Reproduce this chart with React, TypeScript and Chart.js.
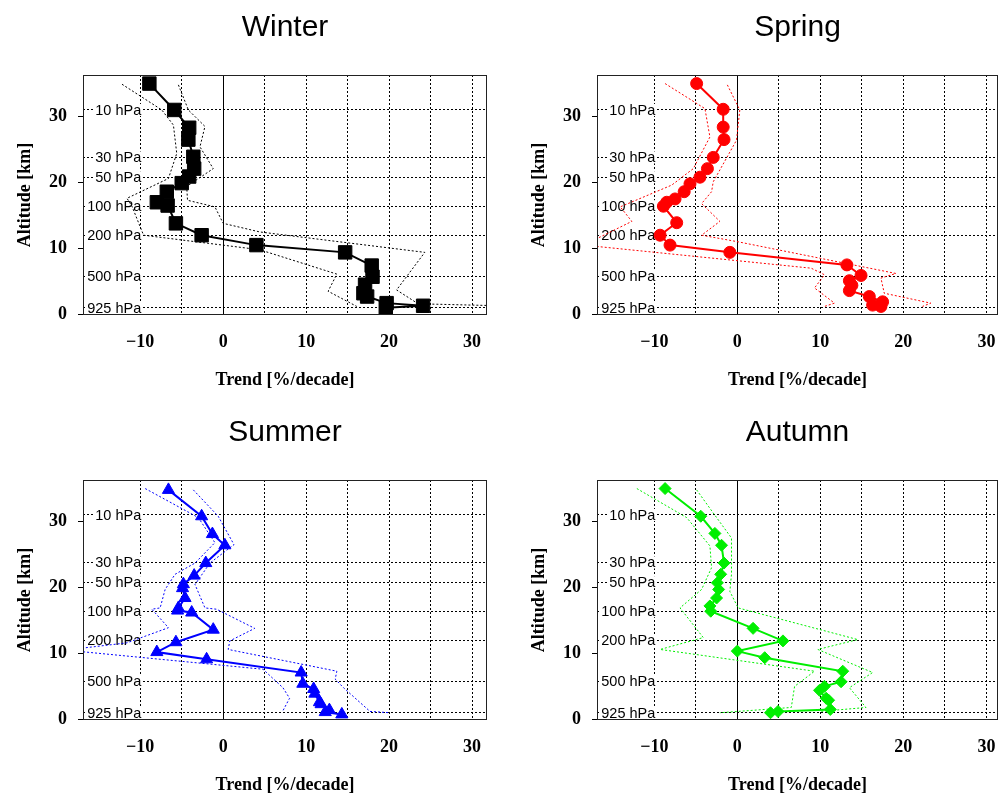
import React, { useEffect, useRef } from 'react';
import { Chart, registerables } from 'chart.js';
Chart.register(...registerables);

// ---- axis / reference values ----
const xTicks = [-10, -5, 0, 5, 10, 15, 20, 25, 30];
const yTicks = [0, 10, 20, 30];
const pressureLabels = ['10 hPa', '30 hPa', '50 hPa', '100 hPa', '200 hPa', '500 hPa', '925 hPa'];
const pressureAlt = [31.0, 23.8, 20.8, 16.4, 12.0, 5.8, 1.0];

// ---- Winter ----
const winterAlt = [35.0, 31.0, 28.3, 26.5, 23.9, 22.1, 20.9, 19.9, 18.6, 17.0, 16.5, 13.8, 12.0, 10.5, 9.4, 7.4, 5.7, 4.5, 3.2, 2.7, 1.7, 1.3, 1.0];
const winterTrend = [-8.9, -5.9, -4.1, -4.2, -3.6, -3.5, -4.1, -5.0, -6.8, -8.0, -6.7, -5.7, -2.6, 4.0, 14.7, 17.9, 18.0, 17.1, 16.9, 17.35, 19.7, 24.1, 19.6];
const winterLoAlt = [34.9, 31.0, 28.7, 24.4, 20.6, 17.6, 16.4, 12.0, 9.8, 6.1, 3.5, 1.2];
const winterLo = [-12.2, -7.4, -6.0, -5.6, -6.6, -11.6, -11.0, -9.6, 4.4, 13.7, 12.65, 16.1];
const winterHiAlt = [34.8, 31.0, 28.5, 25.4, 22.1, 19.4, 17.3, 16.3, 13.8, 12.5, 9.4, 3.7, 1.6, 1.1];
const winterHi = [-5.4, -4.2, -2.2, -2.8, -1.2, -4.4, -4.3, -1.0, 0.0, 4.4, 24.3, 20.9, 23.5, 40.0];

// ---- Spring ----
const springAlt = [35.0, 31.1, 28.4, 26.5, 23.8, 22.1, 20.8, 19.8, 18.6, 17.5, 17.0, 16.4, 13.9, 12.0, 10.5, 9.4, 7.5, 5.9, 5.1, 4.4, 3.6, 2.7, 1.9, 1.4, 1.2];
const springTrend = [-4.9, -1.7, -1.7, -1.6, -2.9, -3.6, -4.5, -5.7, -6.4, -7.5, -8.5, -8.9, -7.3, -9.3, -8.1, -0.9, 13.2, 14.9, 13.5, 13.8, 13.5, 15.9, 17.5, 16.3, 17.3];
const springLoAlt = [35.0, 31.2, 26.9, 22.1, 19.6, 16.3, 14.1, 10.5, 7.0, 6.0, 4.0, 1.7, 1.2];
const springLo = [-8.7, -3.9, -3.3, -5.3, -7.9, -14.1, -12.7, -18.5, 8.9, 10.5, 9.3, 11.7, 10.5];
const springHiAlt = [34.8, 31.0, 26.4, 23.7, 20.1, 18.6, 16.8, 14.1, 12.0, 11.0, 6.2, 5.5, 3.2, 1.7, 1.2];
const springHi = [-1.2, 0.3, -0.1, -1.3, -2.9, -3.1, -4.3, -2.1, -4.3, 0.1, 19.1, 17.3, 17.7, 23.3, 22.3];

// ---- Summer ----
const summerAlt = [34.8, 30.8, 28.1, 26.4, 23.7, 21.8, 20.5, 19.9, 18.4, 16.9, 16.5, 16.2, 13.6, 11.7, 10.2, 9.1, 7.1, 5.4, 4.6, 3.9, 2.6, 2.3, 1.4, 1.1, 0.75];
const summerTrend = [-6.6, -2.6, -1.3, 0.2, -2.1, -3.5, -4.8, -4.9, -4.6, -5.4, -5.5, -3.8, -1.2, -5.7, -8.0, -2.0, 9.4, 9.6, 10.9, 11.05, 11.6, 11.8, 12.8, 12.3, 14.3];
const summerLoAlt = [35.0, 30.6, 26.8, 23.7, 22.0, 19.7, 16.9, 16.7, 13.9, 11.6, 10.5, 7.6, 4.8, 3.2, 1.3];
const summerLo = [-9.4, -3.0, -1.0, -3.4, -5.8, -7.0, -7.6, -8.6, -6.6, -11.6, -19.0, 4.8, 7.2, 8.0, 7.2];
const summerHiAlt = [34.8, 30.8, 26.5, 23.7, 20.45, 16.9, 16.7, 13.8, 11.9, 10.6, 7.3, 6.1, 4.8, 1.2, 1.0];
const summerHi = [-3.6, -0.6, 1.3, -1.6, -3.4, -2.2, -0.8, 3.8, 0.8, 0.6, 13.7, 13.5, 14.5, 17.7, 20.1];

// ---- Autumn ----
const autumnAlt = [35.0, 30.8, 28.2, 26.4, 23.7, 22.0, 20.7, 19.7, 18.4, 17.2, 16.4, 13.8, 11.9, 10.35, 9.35, 7.3, 5.7, 5.0, 4.4, 3.2, 2.9, 1.5, 1.2, 1.0];
const autumnTrend = [-8.7, -4.4, -2.7, -1.9, -1.6, -2.0, -2.4, -2.25, -2.5, -3.3, -3.2, 1.9, 5.5, 0.0, 3.3, 12.7, 12.5, 10.5, 9.9, 10.7, 11.0, 11.2, 4.9, 4.0];
const autumnLoAlt = [35.0, 30.6, 26.3, 23.0, 19.7, 16.9, 12.4, 10.6, 7.3, 5.0, 1.8, 1.0];
const autumnLo = [-12.1, -6.1, -3.3, -3.1, -4.3, -6.9, -4.1, -9.3, 9.3, 6.9, 6.5, -2.1];
const autumnHiAlt = [34.8, 31.3, 27.5, 22.0, 19.4, 16.9, 12.1, 10.6, 7.1, 4.8, 1.8, 1.2];
const autumnHi = [-4.9, -2.9, -0.7, -0.7, -0.9, 0.1, 14.5, 9.7, 16.3, 13.5, 15.5, 10.0];

const SERIF = '"Liberation Serif", "Times New Roman", serif';
const SANS = '"Liberation Sans", Arial, sans-serif';

const fmt = (v: number) => (v < 0 ? '\u2212' + Math.abs(v) : String(v));

const panelPlugin = {
  id: 'panelDeco',
  beforeDatasetsDraw(chart: any) {
    const { ctx, chartArea } = chart;
    const xs = chart.scales.x;
    const ys = chart.scales.y2;
    ctx.save();
    // zero line
    const x0 = xs.getPixelForValue(0);
    ctx.strokeStyle = '#000';
    ctx.lineWidth = 1;
    ctx.beginPath();
    ctx.moveTo(Math.round(x0) + 0.5, chartArea.top);
    ctx.lineTo(Math.round(x0) + 0.5, chartArea.bottom);
    ctx.stroke();
    // pressure labels
    const xr = xs.getPixelForValue(-10) + 1;
    ctx.font = '14.5px ' + SANS;
    ctx.textAlign = 'right';
    ctx.textBaseline = 'middle';
    pressureLabels.forEach((lab, i) => {
      const y = ys.getPixelForValue(pressureAlt[i]);
      const w = ctx.measureText(lab).width;
      ctx.fillStyle = '#fff';
      ctx.fillRect(xr - w - 1, y - 6, w + 2, 12);
      ctx.fillStyle = '#000';
      ctx.fillText(lab, xr, y + 1);
    });
    ctx.restore();
  },
  afterDraw(chart: any) {
    const { ctx, chartArea } = chart;
    ctx.save();
    ctx.strokeStyle = '#222';
    ctx.lineWidth = 1;
    ctx.strokeRect(Math.round(chartArea.left) + 0.5, Math.round(chartArea.top) + 0.5,
      Math.round(chartArea.right - chartArea.left) - 1, Math.round(chartArea.bottom - chartArea.top) - 1);
    // panel title, centred over the plot area
    const t = chart.options.plugins.panelDeco?.title;
    if (t) {
      ctx.fillStyle = '#000';
      ctx.font = '30px ' + SANS;
      ctx.textAlign = 'center';
      ctx.textBaseline = 'alphabetic';
      ctx.fillText(t, (chartArea.left + chartArea.right) / 2, chartArea.top - 39);
    }
    ctx.restore();
  },
};

type PanelProps = {
  title: string; color: string; pointStyle: string; radius: number;
  alt: number[]; trend: number[]; loAlt: number[]; lo: number[]; hiAlt: number[]; hi: number[];
  xMax: number; left: number; top: number; width: number; padRight: number;
};

function Panel(p: PanelProps) {
  const ref = useRef<HTMLCanvasElement>(null);
  useEffect(() => {
    if (!ref.current) return;
    const pts = (xs: number[], ys: number[]) => xs.map((v, i) => ({ x: v, y: ys[i] }));
    const tickFont = { family: SERIF, size: 18, weight: 'bold' as const };
    const chart = new Chart(ref.current, {
      type: 'scatter',
      data: {
        datasets: [
          {
            data: pts(p.trend, p.alt), showLine: true, borderColor: p.color, backgroundColor: p.color,
            borderWidth: 2, pointStyle: p.pointStyle as any, pointRadius: p.radius,
            pointBackgroundColor: p.color, pointBorderColor: p.color, pointBorderWidth: 1,
          },
          {
            data: pts(p.lo, p.loAlt), showLine: true, borderColor: p.color, borderWidth: 1,
            borderDash: [2, 2], pointRadius: 0,
          },
          {
            data: pts(p.hi, p.hiAlt), showLine: true, borderColor: p.color, borderWidth: 1,
            borderDash: [2, 2], pointRadius: 0,
          },
        ],
      },
      options: {
        animation: false,
        responsive: false,
        events: [],
        layout: { padding: { left: 0, top: 75, right: p.padRight, bottom: 0 } },
        plugins: {
          legend: { display: false },
          tooltip: { enabled: false },
          title: { display: false },
          panelDeco: { title: p.title },
        },
        scales: {
          x: {
            type: 'linear', min: -16.9, max: p.xMax,
            afterBuildTicks: (s: any) => { s.ticks = xTicks.map((v) => ({ value: v })); },
            afterFit: (s: any) => { s.height = 85; s.paddingLeft = 0; s.paddingRight = 0; },
            ticks: {
              callback: (v: any) => (Number(v) % 10 === 0 ? fmt(Number(v)) : ''),
              font: tickFont, color: '#000', padding: 0, autoSkip: false, maxRotation: 0,
            },
            grid: { color: '#000', lineWidth: 1, drawTicks: true, tickLength: 17, tickColor: 'rgba(0,0,0,0)' },
            border: { display: false, dash: [2, 2] },
            title: {
              display: true, text: 'Trend [%/decade]', color: '#000', font: tickFont,
              padding: { top: 0, bottom: 9 },
            },
          },
          y: {
            type: 'linear', min: -0.1, max: 36.3, position: 'left',
            afterBuildTicks: (s: any) => { s.ticks = yTicks.map((v) => ({ value: v })); },
            afterFit: (s: any) => { s.width = 83; s.paddingTop = 0; s.paddingBottom = 0; },
            ticks: { font: tickFont, color: '#000', padding: 11 },
            grid: { drawOnChartArea: false, drawTicks: true, tickLength: 5, color: '#000' },
            border: { display: false },
            title: {
              display: true, text: 'Altitude [km]', color: '#000', font: tickFont,
              padding: { top: 15, bottom: 0 },
            },
          },
          y2: {
            type: 'linear', min: -0.1, max: 36.3, position: 'left',
            afterBuildTicks: (s: any) => { s.ticks = pressureAlt.map((v) => ({ value: v })); },
            afterFit: (s: any) => { s.width = 0; s.paddingTop = 0; s.paddingBottom = 0; },
            ticks: { display: false },
            grid: { color: '#000', lineWidth: 1, drawTicks: false },
            border: { display: false, dash: [2, 2] },
          },
        },
      } as any,
      plugins: [panelPlugin],
    });
    return () => chart.destroy();
  }, []);
  return (
    <canvas ref={ref} width={p.width} height={400}
      style={{ position: 'absolute', left: p.left, top: p.top, width: p.width, height: 400 }} />
  );
}

export default function App() {
  return (
    <div style={{ position: 'fixed', left: 0, top: 0, width: 999, height: 799, overflow: 'hidden', background: '#fff' }}>
      <Panel title="Winter" color="#000000" pointStyle="rect" radius={9.5}
        alt={winterAlt} trend={winterTrend} loAlt={winterLoAlt} lo={winterLo} hiAlt={winterHiAlt} hi={winterHi}
        xMax={31.8} left={0} top={0} width={499} padRight={12} />
      <Panel title="Spring" color="#ff0000" pointStyle="circle" radius={6}
        alt={springAlt} trend={springTrend} loAlt={springLoAlt} lo={springLo} hiAlt={springHiAlt} hi={springHi}
        xMax={31.4} left={514} top={0} width={499} padRight={15} />
      <Panel title="Summer" color="#0000ff" pointStyle="triangle" radius={7}
        alt={summerAlt} trend={summerTrend} loAlt={summerLoAlt} lo={summerLo} hiAlt={summerHiAlt} hi={summerHi}
        xMax={31.8} left={0} top={405} width={499} padRight={12} />
      <Panel title="Autumn" color="#00ee00" pointStyle="rectRot" radius={6}
        alt={autumnAlt} trend={autumnTrend} loAlt={autumnLoAlt} lo={autumnLo} hiAlt={autumnHiAlt} hi={autumnHi}
        xMax={31.4} left={514} top={405} width={499} padRight={15} />
    </div>
  );
}
